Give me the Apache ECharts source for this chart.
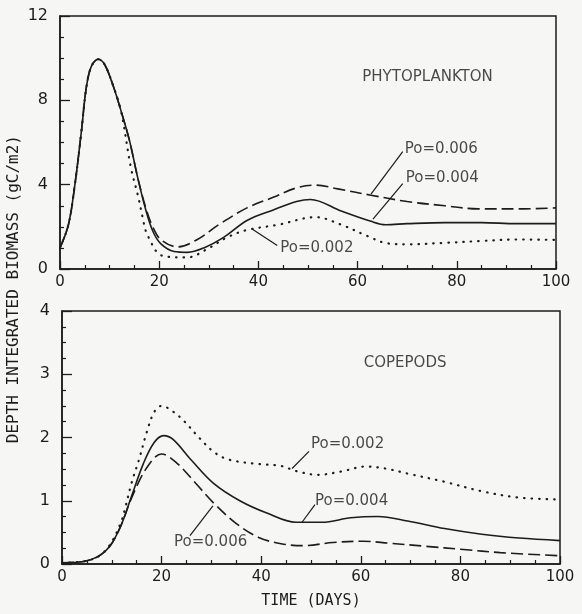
<!DOCTYPE html>
<html><head><meta charset="utf-8">
<script src="https://cdn.jsdelivr.net/npm/echarts@6/dist/echarts.min.js"></script>
<style>html,body{margin:0;padding:0;background:#f6f6f4}#c{width:582px;height:614px}</style>
</head><body><div id="c"></div>
<script>
// ---------- DATA ----------
// Phytoplankton (gC/m2)
const phyDays004 = [0,1.7,3,4.3,5.3,6.3,7.7,9,10.7,12.3,14,15.7,17.3,18.7,20.3,23,25.7,29,33,37.7,43,47.7,50.5,56.7,62.7,65.7,70,77.6,85,92,100];
const phyVals004 = [1.0,2.1,4.0,6.5,8.6,9.6,9.95,9.7,8.7,7.5,6.1,4.3,2.8,1.8,1.2,0.83,0.79,1.0,1.5,2.3,2.8,3.2,3.3,2.75,2.26,2.1,2.15,2.2,2.2,2.15,2.15];
const phyDays006 = [0,1.7,3,4.3,5.3,6.3,7.7,9,10.7,12.3,14,15.7,17.3,18.7,20.3,23.7,27.7,32,37.7,43,47.7,51.5,56,62.7,70,77.6,84.3,92.5,100];
const phyVals006 = [1.0,2.1,4.0,6.5,8.6,9.6,9.95,9.7,8.7,7.5,6.1,4.3,2.9,2.0,1.4,1.05,1.4,2.1,2.9,3.4,3.85,3.98,3.8,3.5,3.2,3.0,2.85,2.85,2.9];
const phyDays002 = [0,1.7,3,4.3,5.3,6.3,7.7,9,10.7,12.3,14.3,15.7,16.7,17.3,18.3,19.3,21,25.7,29.7,33.7,37.7,44,51.5,56.7,62,65.7,70,77.6,85,92.5,100];
const phyVals002 = [1.0,2.1,4.0,6.5,8.6,9.6,9.95,9.7,8.7,7.5,4.8,3.5,2.4,1.8,1.3,0.87,0.6,0.55,0.95,1.5,1.85,2.1,2.46,2.1,1.56,1.23,1.17,1.24,1.33,1.4,1.38];
// Copepods (gC/m2)
const copDays004 = [0,4.3,7.3,9.6,11.8,14,16.3,18.5,20.4,22.3,26,30.5,35.7,41,47,52.2,58,63.4,69.4,76.8,84.3,91.8,100];
const copVals004 = [0.02,0.04,0.12,0.28,0.6,1.08,1.58,1.92,2.03,1.97,1.64,1.27,1.0,0.81,0.66,0.66,0.73,0.75,0.68,0.56,0.47,0.41,0.37];
const copDays006 = [0,4.3,7.3,9.6,11.8,14,17,20,23,26.8,30.5,35,39.5,44,48.4,54.4,60.4,65.6,73,80.6,88,100];
const copVals006 = [0.02,0.04,0.12,0.28,0.6,1.05,1.52,1.74,1.6,1.28,0.96,0.64,0.42,0.32,0.29,0.34,0.36,0.33,0.28,0.23,0.18,0.13];
const copDays002 = [0,4.3,7.3,9.6,11.8,12.6,14,15.5,17,18.5,20,22.3,24.5,27.5,30.5,33.5,39.5,44,47,51.4,55.9,61,64.9,69.4,76.8,84.3,91.8,100];
const copVals002 = [0.02,0.04,0.12,0.3,0.65,0.86,1.29,1.66,2.08,2.4,2.5,2.41,2.26,2.0,1.77,1.65,1.58,1.55,1.47,1.41,1.46,1.54,1.51,1.43,1.3,1.15,1.05,1.02];
// Axis ticks
const xTickLabels = [0,20,40,60,80,100];
const phyYTicks = [0,4,8,12];
const copYTicks = [0,1,2,3,4];
// Annotations (data coordinates)
const phyTitle = {text:'PHYTOPLANKTON', at:[74.1,9.1]};
const copTitle = {text:'COPEPODS', at:[68.9,3.18]};
const phyNotes = [
  {text:'Po=0.006', at:[69.5,5.7], from:[62.7,3.55], to:[69.1,5.57]},
  {text:'Po=0.004', at:[69.7,4.3], from:[63.1,2.37], to:[69.1,4.05]},
  {text:'Po=0.002', at:[44.4,1.0], from:[38.8,1.89], to:[43.8,1.11]}
];
const copNotes = [
  {text:'Po=0.002', at:[50.0,1.9], from:[46.2,1.51], to:[49.6,1.78]},
  {text:'Po=0.004', at:[50.8,0.99], from:[48.2,0.66], to:[50.8,0.94]},
  {text:'Po=0.006', at:[22.5,0.34], from:[30.3,0.92], to:[25.7,0.45]}
];

// ---------- CHART ----------
const INK = '#1c1c1c';
const FONT = 'DejaVu Sans';
const zip = (a,b) => a.map((d,i)=>[d,b[i]]);
const chart = echarts.init(document.getElementById('c'), null, {renderer:'canvas'});

function xAxis(gi, name){
  return {
    type:'value', gridIndex:gi, min:0, max:100, interval:20,
    axisLine:{show:true, lineStyle:{color:INK, width:1.5}},
    axisTick:{show:true, inside:true, length:8, lineStyle:{color:INK, width:1.3}},
    minorTick:{show:true, splitNumber:4, length:4, lineStyle:{color:INK, width:1.2}},
    splitLine:{show:false}, minorSplitLine:{show:false},
    axisLabel:{color:INK, fontFamily:FONT, fontSize:15, margin:6,
      formatter:v => xTickLabels.includes(v) ? String(v) : ''},
    name: name || '', nameLocation:'middle', nameGap:30,
    nameTextStyle:{color:INK, fontFamily:'DejaVu Sans Mono', fontSize:15}
  };
}
function yAxis(gi, max, interval, ticks){
  return {
    type:'value', gridIndex:gi, min:0, max:max, interval:interval,
    axisLine:{show:true, lineStyle:{color:INK, width:1.5}},
    axisTick:{show:true, inside:true, length:10, lineStyle:{color:INK, width:1.3}},
    minorTick:{show:true, splitNumber:4, length:4, lineStyle:{color:INK, width:1.2}},
    splitLine:{show:false}, minorSplitLine:{show:false},
    axisLabel:{color:INK, fontFamily:FONT, fontSize:16, margin:12,
      formatter:v => ticks.includes(v) ? String(v) : ''}
  };
}
const styles = {
  '004':{type:'solid', width:1.6},
  '006':{type:[12,5], width:1.6},
  '002':{type:[0.5,7], width:2.2, cap:'round'}
};
function lineSeries(gi, days, vals, key, extra){
  const s = {
    type:'line', xAxisIndex:gi, yAxisIndex:gi, data:zip(days,vals),
    smooth:0.35, symbol:'none', silent:true, z:3,
    lineStyle:Object.assign({color:INK}, styles[key])
  };
  return Object.assign(s, extra||{});
}
function noteSeries(gi, notes, title){
  const pts = notes.map(n => ({value:n.at, label:{formatter:n.text, align:'left'}}));
  pts.push({value:title.at, label:{formatter:title.text, align:'center'}});
  return {
    type:'scatter', xAxisIndex:gi, yAxisIndex:gi, symbolSize:0, silent:true, z:5,
    data:pts,
    label:{show:true, position:'inside', color:INK, fontFamily:FONT, fontSize:15, verticalAlign:'middle'},
    markLine:{
      silent:true, symbol:['none','none'], animation:false,
      lineStyle:{color:INK, width:1.2, type:'solid'}, label:{show:false},
      data: notes.map(n => [{coord:n.from},{coord:n.to}])
    }
  };
}

chart.setOption({
  backgroundColor:'#f6f6f4',
  animation:false,
  grid:[
    {left:60, right:26, top:16, height:253, show:true, borderColor:INK, borderWidth:1.5, backgroundColor:'transparent'},
    {left:62, right:22, top:311, height:253, show:true, borderColor:INK, borderWidth:1.5, backgroundColor:'transparent'}
  ],
  xAxis:[xAxis(0), xAxis(1,'TIME (DAYS)')],
  yAxis:[yAxis(0,12,4,phyYTicks), yAxis(1,4,1,copYTicks)],
  graphic:[{
    type:'text', left:6, top:135, rotation:Math.PI/2,
    style:{text:'DEPTH INTEGRATED BIOMASS (gC/m2)', fill:INK, font:'16px "DejaVu Sans Mono"'}
  }],
  series:[
    lineSeries(0, phyDays004, phyVals004, '004'),
    lineSeries(0, phyDays006, phyVals006, '006'),
    lineSeries(0, phyDays002, phyVals002, '002'),
    noteSeries(0, phyNotes, phyTitle),
    lineSeries(1, copDays004, copVals004, '004'),
    lineSeries(1, copDays006, copVals006, '006'),
    lineSeries(1, copDays002, copVals002, '002'),
    noteSeries(1, copNotes, copTitle)
  ]
});
</script></body></html>
